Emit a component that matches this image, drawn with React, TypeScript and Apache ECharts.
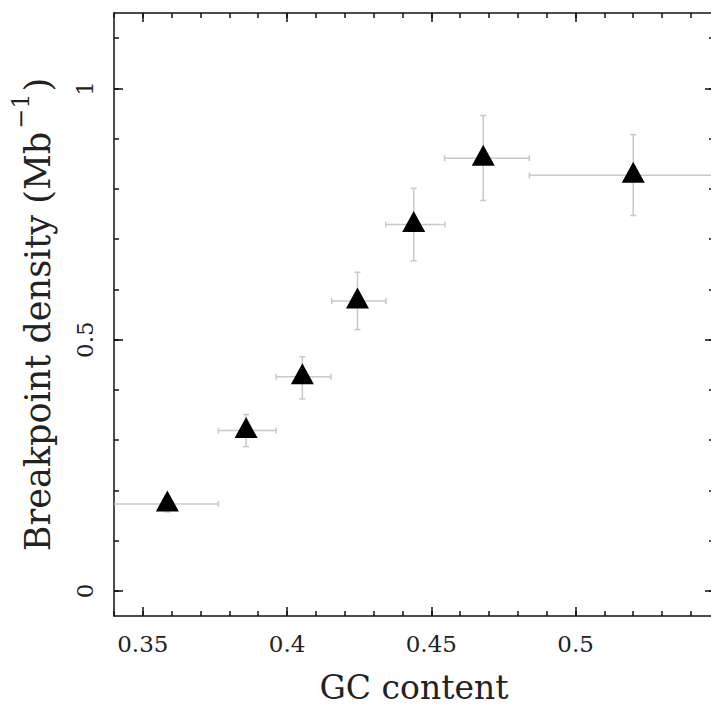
import React, { useEffect, useRef } from "react";
import * as echarts from "echarts";

// GC content (x) and breakpoint density (y) of the binned points
const gcContent = [0.3585, 0.3858, 0.4053, 0.4244, 0.4439, 0.468, 0.52];
const density = [0.173, 0.319, 0.426, 0.577, 0.729, 0.861, 0.827];
// horizontal error bars (bin edges)
const gcLow = [0.33, 0.3762, 0.3962, 0.4155, 0.4342, 0.4546, 0.484];
const gcHigh = [0.3762, 0.3962, 0.4152, 0.4343, 0.4547, 0.484, 0.6];
// vertical error bars
const densLow = [0.157, 0.287, 0.382, 0.52, 0.657, 0.777, 0.747];
const densHigh = [0.189, 0.351, 0.466, 0.634, 0.801, 0.946, 0.908];

// axis ranges and tick labels
const xMin = 0.34;
const xMax = 0.548;
const yMin = -0.05;
const yMax = 1.15;
const xMajorTicks = [0.35, 0.4, 0.45, 0.5];
const xMinorTicks = [0.34, 0.35, 0.36, 0.37, 0.38, 0.39, 0.4, 0.41, 0.42, 0.43, 0.44, 0.45, 0.46, 0.47, 0.48, 0.49, 0.5, 0.51, 0.52, 0.53, 0.54];
const yMajorTicks = [0, 0.5, 1];
const yMinorTicks = [0, 0.1, 0.2, 0.3, 0.4, 0.5, 0.6, 0.7, 0.8, 0.9, 1, 1.1];

const FONT = "DejaVu Serif";
const TEXT = "#222";
const LINE = "#111";
const ERR = "#c8c8c8";

export default function App() {
  const ref = useRef<HTMLDivElement>(null);
  useEffect(() => {
    if (!ref.current) return;
    const chart = echarts.init(ref.current, undefined, { renderer: "svg" });

    const lineStyle = { color: LINE, width: 1.5 };
    const mk = (
      kind: "x" | "y",
      position: string,
      ticks: number[],
      len: number,
      showLine: boolean,
      extra: any = {}
    ) => ({
      type: "value",
      min: kind === "x" ? xMin : yMin,
      max: kind === "x" ? xMax : yMax,
      position,
      axisLine: { show: showLine, onZero: false, lineStyle },
      axisTick: { show: true, inside: true, length: len, customValues: ticks, lineStyle },
      axisLabel: { show: false },
      splitLine: { show: false },
      ...extra,
    });

    const errData = gcContent.map((g, i) => [g, density[i], gcLow[i], gcHigh[i], densLow[i], densHigh[i]]);

    chart.setOption({
      animation: false,
      backgroundColor: "#fff",
      grid: { left: 114, top: 13, right: -3, bottom: 90, containLabel: false, outerBoundsMode: "none" },
      xAxis: [
        mk("x", "bottom", xMajorTicks, 9, true, {
          axisLabel: {
            show: true,
            customValues: xMajorTicks,
            margin: 16,
            fontFamily: FONT,
            fontSize: 23,
            color: TEXT,
          },
          name: "GC content",
          nameLocation: "middle",
          nameGap: 56,
          nameTextStyle: { fontFamily: FONT, fontSize: 33, lineHeight: 30, color: TEXT },
        }),
        mk("x", "bottom", xMinorTicks, 5, false),
        mk("x", "top", xMajorTicks, 9, true),
        mk("x", "top", xMinorTicks, 5, false),
      ],
      yAxis: [
        mk("y", "left", yMajorTicks, 9, true, {
          axisLabel: {
            show: true,
            customValues: yMajorTicks,
            rotate: 90,
            margin: 18,
            fontFamily: FONT,
            fontSize: 23,
            color: TEXT,
          },
          name: "{a|Breakpoint density (Mb}{sup|−1}{a|)}",
          nameLocation: "middle",
          nameGap: 59,
          nameTextStyle: {
            fontFamily: FONT,
            fontSize: 35,
            color: TEXT,
            rich: {
              a: { fontFamily: FONT, fontSize: 35, color: TEXT, lineHeight: 46, verticalAlign: "bottom" },
              sup: { fontFamily: FONT, fontSize: 24, color: TEXT, lineHeight: 22, verticalAlign: "top", padding: [0, 2, 0, 3] },
            },
          },
        }),
        mk("y", "left", yMinorTicks, 5, false),
        mk("y", "right", yMajorTicks, 9, true),
        mk("y", "right", yMinorTicks, 5, false),
      ],
      series: [
        {
          type: "custom",
          xAxisIndex: 0,
          yAxisIndex: 0,
          clip: true,
          z: 1,
          data: errData,
          renderItem: (params: any, api: any) => {
            const c = api.coord([api.value(0), api.value(1)]);
            const xl = api.coord([api.value(2), api.value(1)]);
            const xh = api.coord([api.value(3), api.value(1)]);
            const yl = api.coord([api.value(0), api.value(4)]);
            const yh = api.coord([api.value(0), api.value(5)]);
            const st = { stroke: ERR, lineWidth: 1.5 };
            const cap = 3;
            return {
              type: "group",
              children: [
                { type: "line", shape: { x1: xl[0], y1: c[1], x2: xh[0], y2: c[1] }, style: st },
                { type: "line", shape: { x1: xl[0], y1: c[1] - cap, x2: xl[0], y2: c[1] + cap }, style: st },
                { type: "line", shape: { x1: xh[0], y1: c[1] - cap, x2: xh[0], y2: c[1] + cap }, style: st },
                { type: "line", shape: { x1: c[0], y1: yl[1], x2: c[0], y2: yh[1] }, style: st },
                { type: "line", shape: { x1: c[0] - cap, y1: yl[1], x2: c[0] + cap, y2: yl[1] }, style: st },
                { type: "line", shape: { x1: c[0] - cap, y1: yh[1], x2: c[0] + cap, y2: yh[1] }, style: st },
              ],
            };
          },
        },
        {
          type: "scatter",
          xAxisIndex: 0,
          yAxisIndex: 0,
          z: 3,
          symbol: "triangle",
          symbolSize: [23, 21],
          symbolOffset: [0, -3],
          itemStyle: { color: "#000", opacity: 1 },
          data: gcContent.map((g, i) => [g, density[i]]),
        },
      ],
    });
    return () => chart.dispose();
  }, []);
  return (
    <div
      ref={ref}
      style={{ position: "fixed", left: 0, top: 0, width: 711, height: 706, background: "#fff" }}
    />
  );
}
